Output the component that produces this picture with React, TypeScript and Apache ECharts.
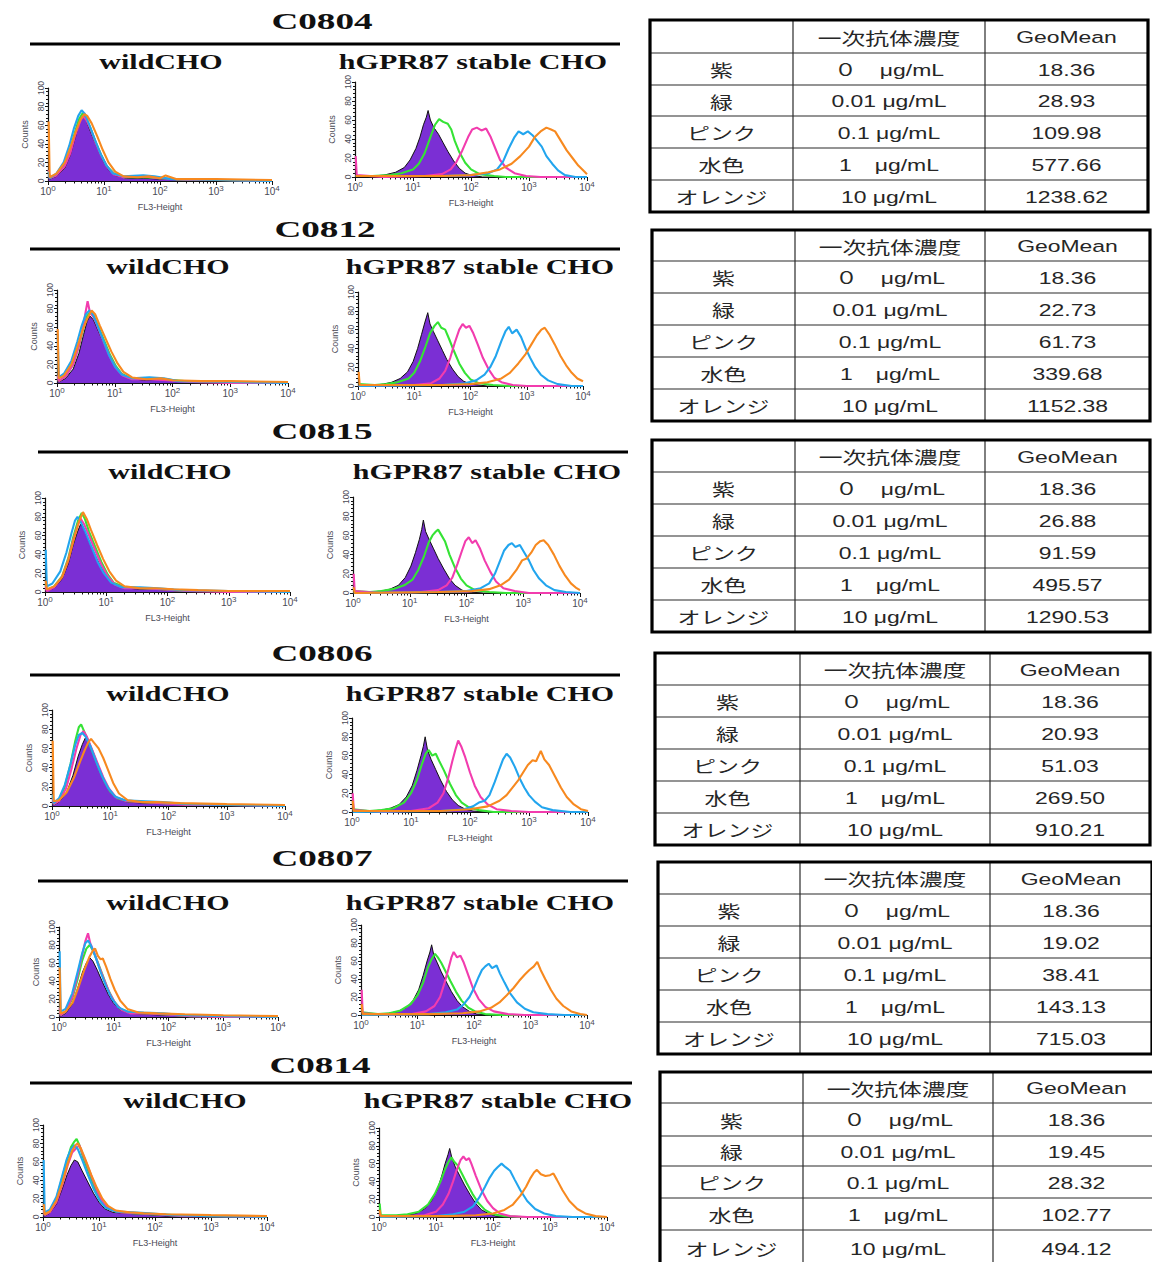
import React, { useEffect, useRef } from "react";
import * as echarts from "echarts";

type Pt = [number, number];
type Curve = Pt[];

// ---------- Sample names and table contents ----------
const SAMPLES = ["C0804", "C0812", "C0815", "C0806", "C0807", "C0814"];
const CELL_LINES = ["wildCHO", "hGPR87 stable CHO"];
const TABLE_HEADER = ["", "一次抗体濃度", "GeoMean"];
const COLOR_NAMES = ["紫", "緑", "ピンク", "水色", "オレンジ"];
const CONCENTRATIONS = ["０　μg/mL", "0.01 μg/mL", "0.1 μg/mL", "1　μg/mL", "10 μg/mL"];

const GEOMEAN_C0804 = ["18.36", "28.93", "109.98", "577.66", "1238.62"];
const GEOMEAN_C0812 = ["18.36", "22.73", "61.73", "339.68", "1152.38"];
const GEOMEAN_C0815 = ["18.36", "26.88", "91.59", "495.57", "1290.53"];
const GEOMEAN_C0806 = ["18.36", "20.93", "51.03", "269.50", "910.21"];
const GEOMEAN_C0807 = ["18.36", "19.02", "38.41", "143.13", "715.03"];
const GEOMEAN_C0814 = ["18.36", "19.45", "28.32", "102.77", "494.12"];

// axis ticks: decades of FL3-Height (log10) and counts
const X_DECADES = [0, 1, 2, 3, 4];
const Y_TICKS = [0, 20, 40, 60, 80, 100];

// ---------- Histogram traces: [log10(FL3-Height), counts], order 紫 緑 ピンク 水色 オレンジ ----------
const WILD_C0804: Curve[] = [
  [[0.012,6],[0.03,2],[0.15,5],[0.3,14],[0.4,28],[0.48,45],[0.55,60],[0.6,68],[0.65,72],[0.7,62],[0.78,50],[0.88,36],[0.98,22],[1.08,12],[1.2,6],[1.4,3],[1.7,3],[2.0,2],[2.4,1],[3,0],[4,0]],
  [[0.012,10],[0.03,3],[0.15,7],[0.3,18],[0.4,34],[0.48,52],[0.55,66],[0.62,73],[0.68,68],[0.75,58],[0.85,42],[0.95,28],[1.05,16],[1.18,8],[1.35,4],[1.7,4],[2.0,3],[2.5,1],[3,1],[4,0]],
  [[0.012,12],[0.03,3],[0.15,6],[0.3,16],[0.4,30],[0.48,48],[0.56,62],[0.62,70],[0.68,66],[0.76,56],[0.86,40],[0.96,26],[1.06,15],[1.18,7],[1.35,4],[1.7,5],[2.0,3],[2.5,1],[3,1],[4,0]],
  [[0.012,10],[0.03,3],[0.15,8],[0.28,20],[0.38,38],[0.46,56],[0.54,70],[0.6,76],[0.66,72],[0.74,60],[0.84,44],[0.94,29],[1.04,17],[1.16,8],[1.35,5],[1.7,6],[1.9,5],[2.2,2],[3,1],[4,0]],
  [[0.012,64],[0.03,4],[0.15,8],[0.3,20],[0.4,36],[0.5,54],[0.58,66],[0.65,72],[0.7,70],[0.78,62],[0.88,48],[0.98,33],[1.08,20],[1.2,10],[1.35,5],[1.6,4],[1.8,5],[2.0,3],[2.1,6],[2.3,2],[3,2],[4,1]],
];
const HGPR_C0804: Curve[] = [
  [[0.012,0],[0.3,1],[0.5,2],[0.7,5],[0.85,10],[0.95,18],[1.05,30],[1.12,42],[1.18,55],[1.23,63],[1.26,70],[1.3,60],[1.36,52],[1.44,45],[1.52,36],[1.6,27],[1.7,17],[1.8,9],[1.9,4],[2.0,2],[2.2,0],[4,0]],
  [[0.012,1],[0.3,1],[0.6,2],[0.8,4],[1.0,8],[1.1,14],[1.2,25],[1.3,42],[1.38,55],[1.45,61],[1.52,58],[1.6,56],[1.66,50],[1.72,38],[1.8,26],[1.9,15],[2.0,8],[2.15,3],[2.4,1],[2.6,0],[4,0]],
  [[0.012,22],[0.03,2],[0.5,0],[1.2,1],[1.5,3],[1.65,8],[1.75,16],[1.85,28],[1.95,42],[2.02,50],[2.1,52],[2.18,49],[2.26,51],[2.34,42],[2.42,30],[2.5,18],[2.6,10],[2.75,4],[2.95,1],[3.2,0],[4,0]],
  [[0.012,1],[1.5,1],[2.0,2],[2.3,4],[2.45,8],[2.55,16],[2.65,30],[2.75,42],[2.82,48],[2.9,45],[2.98,48],[3.06,44],[3.14,38],[3.22,32],[3.3,22],[3.4,14],[3.5,7],[3.62,2],[3.8,0],[4,0]],
  [[0.012,1],[1.5,1],[2.0,2],[2.3,5],[2.5,8],[2.7,14],[2.85,22],[3.0,32],[3.1,42],[3.2,48],[3.3,52],[3.38,50],[3.45,48],[3.55,38],[3.65,28],[3.75,20],[3.85,12],[3.95,6],[4,3]],
];

const WILD_C0812: Curve[] = [
  [[0.012,4],[0.03,1],[0.15,5],[0.28,15],[0.38,32],[0.46,52],[0.52,66],[0.57,72],[0.63,68],[0.7,58],[0.8,44],[0.9,30],[1.0,18],[1.1,10],[1.25,5],[1.5,3],[1.8,4],[2.1,2],[2.6,1],[3,0],[4,0]],
  [[0.012,8],[0.03,2],[0.15,7],[0.28,20],[0.38,40],[0.46,60],[0.52,72],[0.58,76],[0.64,72],[0.72,60],[0.82,45],[0.92,30],[1.02,18],[1.12,10],[1.28,5],[1.6,5],[1.85,4],[2.2,2],[2.7,1],[3,1],[4,0]],
  [[0.012,8],[0.03,2],[0.15,7],[0.28,20],[0.38,40],[0.45,60],[0.5,78],[0.53,88],[0.57,76],[0.64,70],[0.72,58],[0.82,42],[0.92,28],[1.02,16],[1.14,8],[1.3,4],[1.6,4],[1.9,3],[2.3,1],[3,0],[4,0]],
  [[0.012,52],[0.03,6],[0.12,10],[0.25,24],[0.35,44],[0.43,62],[0.5,74],[0.56,78],[0.62,74],[0.7,62],[0.8,46],[0.9,30],[1.0,18],[1.12,9],[1.3,5],[1.6,6],[1.85,5],[2.1,2],[3,1],[4,0]],
  [[0.012,58],[0.03,5],[0.12,8],[0.25,20],[0.35,38],[0.45,58],[0.53,70],[0.6,78],[0.66,74],[0.74,62],[0.84,48],[0.94,34],[1.04,22],[1.15,12],[1.3,6],[1.55,4],[1.8,5],[2.0,3],[2.5,2],[3,2],[4,1]],
];
const HGPR_C0812: Curve[] = [
  [[0.012,0],[0.3,1],[0.45,2],[0.6,4],[0.75,8],[0.88,15],[0.98,26],[1.06,40],[1.13,55],[1.19,68],[1.24,78],[1.28,66],[1.34,58],[1.42,48],[1.5,38],[1.58,28],[1.68,18],[1.78,10],[1.88,5],[2.0,2],[2.3,0],[4,0]],
  [[0.012,2],[0.3,1],[0.5,2],[0.7,4],[0.9,8],[1.0,14],[1.1,26],[1.2,42],[1.28,56],[1.36,64],[1.42,68],[1.48,62],[1.55,60],[1.62,50],[1.7,38],[1.8,24],[1.9,14],[2.0,7],[2.15,3],[2.4,1],[2.7,0],[4,0]],
  [[0.012,0],[1.0,1],[1.3,3],[1.45,8],[1.55,16],[1.64,30],[1.72,46],[1.8,60],[1.86,66],[1.92,62],[1.98,64],[2.05,56],[2.13,44],[2.22,30],[2.32,18],[2.42,9],[2.55,4],[2.75,1],[3.0,0],[4,0]],
  [[0.012,0],[1.5,1],[1.9,3],[2.1,6],[2.25,12],[2.35,20],[2.45,32],[2.55,48],[2.62,58],[2.68,63],[2.74,56],[2.82,60],[2.9,52],[2.98,40],[3.06,30],[3.15,20],[3.25,12],[3.38,6],[3.55,2],[3.8,0],[4,0]],
  [[0.012,15],[0.03,1],[1.5,1],[2.0,2],[2.3,4],[2.55,8],[2.7,14],[2.85,24],[2.98,34],[3.08,44],[3.18,54],[3.26,60],[3.32,62],[3.4,55],[3.5,44],[3.6,32],[3.7,22],[3.8,14],[3.9,8],[4,5]],
];

const WILD_C0815: Curve[] = [
  [[0.012,5],[0.03,1],[0.15,4],[0.28,14],[0.38,30],[0.46,50],[0.53,64],[0.58,72],[0.63,68],[0.7,57],[0.8,42],[0.9,28],[1.0,17],[1.1,9],[1.25,5],[1.5,3],[1.8,3],[2.2,1],[3,0],[4,0]],
  [[0.012,8],[0.03,2],[0.15,6],[0.28,17],[0.38,36],[0.46,58],[0.54,76],[0.6,84],[0.65,78],[0.72,64],[0.82,48],[0.92,32],[1.02,19],[1.12,10],[1.3,5],[1.6,4],[1.9,3],[2.3,1],[3,1],[4,0]],
  [[0.012,6],[0.03,1],[0.15,5],[0.28,16],[0.38,34],[0.46,55],[0.53,70],[0.58,78],[0.64,72],[0.72,60],[0.82,44],[0.92,29],[1.02,17],[1.14,8],[1.3,4],[1.6,4],[1.9,3],[2.3,1],[3,0],[4,0]],
  [[0.012,45],[0.03,6],[0.12,9],[0.25,22],[0.35,42],[0.43,62],[0.49,76],[0.53,80],[0.58,75],[0.66,64],[0.76,48],[0.86,32],[0.96,20],[1.08,10],[1.25,5],[1.55,5],[1.85,4],[2.2,2],[3,1],[4,0]],
  [[0.012,12],[0.03,3],[0.15,6],[0.28,16],[0.38,34],[0.47,56],[0.55,74],[0.62,85],[0.68,78],[0.75,66],[0.85,50],[0.95,35],[1.05,22],[1.16,12],[1.3,6],[1.55,4],[1.8,4],[2.1,3],[2.5,2],[3,1],[4,1]],
];
const HGPR_C0815: Curve[] = [
  [[0.012,0],[0.3,1],[0.5,2],[0.65,4],[0.8,8],[0.92,16],[1.02,28],[1.1,42],[1.17,56],[1.21,66],[1.24,76],[1.28,64],[1.34,56],[1.42,46],[1.5,36],[1.6,25],[1.7,15],[1.8,8],[1.92,3],[2.05,1],[2.3,0],[4,0]],
  [[0.012,2],[0.3,1],[0.5,2],[0.7,4],[0.9,8],[1.05,14],[1.15,24],[1.25,38],[1.33,52],[1.4,60],[1.46,64],[1.5,66],[1.56,60],[1.62,54],[1.7,40],[1.8,26],[1.9,15],[2.0,8],[2.15,3],[2.4,1],[2.7,0],[4,0]],
  [[0.012,20],[0.03,2],[0.5,0],[1.2,1],[1.5,3],[1.65,8],[1.75,16],[1.84,30],[1.92,44],[1.98,54],[2.04,58],[2.1,52],[2.16,55],[2.24,46],[2.32,34],[2.42,22],[2.52,12],[2.65,5],[2.85,2],[3.1,0],[4,0]],
  [[0.012,0],[1.5,1],[2.0,2],[2.25,5],[2.4,10],[2.5,20],[2.58,32],[2.66,44],[2.74,50],[2.8,52],[2.86,48],[2.94,50],[3.02,42],[3.1,34],[3.18,24],[3.28,15],[3.4,8],[3.55,3],[3.75,1],[4,0]],
  [[0.012,6],[0.03,0],[1.5,1],[2.1,2],[2.4,4],[2.6,8],[2.75,14],[2.88,24],[2.98,34],[3.06,36],[3.14,42],[3.22,50],[3.3,54],[3.36,55],[3.44,50],[3.54,40],[3.64,28],[3.74,18],[3.84,10],[3.94,5],[4,3]],
];

const WILD_C0806: Curve[] = [
  [[0.012,5],[0.03,1],[0.12,4],[0.25,14],[0.36,32],[0.45,52],[0.52,64],[0.58,72],[0.63,66],[0.7,55],[0.8,40],[0.9,26],[1.0,15],[1.12,8],[1.3,4],[1.6,3],[1.9,3],[2.3,1],[3,1],[4,0]],
  [[0.012,10],[0.03,2],[0.12,6],[0.22,20],[0.32,44],[0.4,68],[0.46,82],[0.5,85],[0.55,78],[0.62,68],[0.7,56],[0.8,40],[0.9,26],[1.0,15],[1.12,8],[1.3,5],[1.6,4],[1.9,3],[2.3,2],[3,1],[4,1]],
  [[0.012,8],[0.03,2],[0.12,5],[0.24,18],[0.34,40],[0.42,60],[0.49,74],[0.54,78],[0.6,72],[0.68,60],[0.78,45],[0.88,30],[0.98,18],[1.1,9],[1.28,5],[1.6,4],[1.9,3],[2.3,1],[3,1],[4,0]],
  [[0.012,12],[0.03,3],[0.12,8],[0.22,22],[0.32,44],[0.4,64],[0.46,74],[0.52,76],[0.58,72],[0.66,62],[0.76,46],[0.86,31],[0.96,19],[1.08,10],[1.25,6],[1.6,5],[1.9,4],[2.3,2],[3,1],[4,0]],
  [[0.012,68],[0.03,5],[0.12,6],[0.25,14],[0.38,30],[0.48,46],[0.56,58],[0.62,66],[0.67,70],[0.72,66],[0.8,60],[0.88,50],[0.96,38],[1.05,24],[1.15,13],[1.3,6],[1.55,4],[1.8,4],[2.2,3],[3,2],[4,1]],
];
const HGPR_C0806: Curve[] = [
  [[0.012,0],[0.3,1],[0.5,2],[0.65,4],[0.8,8],[0.92,16],[1.02,28],[1.1,44],[1.17,60],[1.21,70],[1.24,80],[1.28,66],[1.34,56],[1.42,45],[1.5,34],[1.6,22],[1.7,13],[1.8,7],[1.92,3],[2.05,1],[2.3,0],[4,0]],
  [[0.012,3],[0.3,1],[0.5,2],[0.7,4],[0.88,10],[1.0,20],[1.1,34],[1.18,50],[1.25,62],[1.3,66],[1.36,60],[1.42,62],[1.48,54],[1.56,44],[1.66,30],[1.76,18],[1.86,10],[1.98,5],[2.15,2],[2.4,0],[4,0]],
  [[0.012,20],[0.03,2],[0.5,0],[1.0,1],[1.3,4],[1.45,10],[1.55,20],[1.63,36],[1.7,54],[1.76,68],[1.8,76],[1.85,70],[1.92,58],[2.0,42],[2.08,28],[2.18,16],[2.3,8],[2.45,3],[2.7,1],[3.0,0],[4,0]],
  [[0.012,0],[1.5,1],[1.9,3],[2.05,6],[2.15,10],[2.25,12],[2.33,18],[2.42,32],[2.5,46],[2.56,56],[2.62,62],[2.68,58],[2.76,48],[2.84,36],[2.92,26],[3.0,18],[3.1,11],[3.22,5],[3.4,2],[3.7,0],[4,0]],
  [[0.012,12],[0.03,1],[1.5,1],[2.0,3],[2.3,6],[2.5,12],[2.62,18],[2.72,26],[2.82,34],[2.9,42],[2.98,50],[3.06,55],[3.12,54],[3.2,65],[3.26,56],[3.34,50],[3.44,38],[3.54,26],[3.64,16],[3.76,8],[3.88,3],[4,1]],
];

const WILD_C0807: Curve[] = [
  [[0.012,5],[0.03,1],[0.12,4],[0.24,14],[0.34,32],[0.43,50],[0.5,60],[0.56,66],[0.62,62],[0.7,52],[0.8,38],[0.9,25],[1.0,15],[1.12,8],[1.3,4],[1.6,3],[1.9,2],[2.4,1],[3,0],[4,0]],
  [[0.012,8],[0.03,2],[0.12,6],[0.24,20],[0.34,42],[0.42,62],[0.5,76],[0.56,80],[0.62,74],[0.7,62],[0.8,46],[0.9,30],[1.0,18],[1.12,9],[1.3,5],[1.6,4],[1.9,3],[2.4,1],[3,1],[4,0]],
  [[0.012,10],[0.03,2],[0.12,6],[0.24,22],[0.34,46],[0.42,68],[0.48,84],[0.53,93],[0.57,82],[0.64,72],[0.72,58],[0.82,42],[0.92,27],[1.02,16],[1.14,8],[1.3,4],[1.6,4],[1.9,3],[2.4,1],[3,0],[4,0]],
  [[0.012,73],[0.03,6],[0.12,9],[0.24,26],[0.34,50],[0.42,70],[0.48,82],[0.53,85],[0.58,80],[0.66,68],[0.76,50],[0.86,34],[0.96,21],[1.08,11],[1.25,6],[1.55,5],[1.9,4],[2.3,2],[3,1],[4,0]],
  [[0.012,55],[0.03,4],[0.12,6],[0.25,16],[0.36,34],[0.46,52],[0.55,66],[0.62,74],[0.66,76],[0.71,68],[0.76,64],[0.8,65],[0.86,56],[0.94,42],[1.02,30],[1.12,18],[1.25,9],[1.45,5],[1.8,4],[2.3,3],[3,2],[4,1]],
];
const HGPR_C0807: Curve[] = [
  [[0.012,0],[0.3,1],[0.5,2],[0.65,4],[0.8,8],[0.92,16],[1.02,28],[1.1,44],[1.17,60],[1.22,70],[1.25,78],[1.29,66],[1.35,58],[1.42,48],[1.5,38],[1.6,26],[1.7,16],[1.8,9],[1.92,4],[2.05,1],[2.3,0],[4,0]],
  [[0.012,3],[0.3,1],[0.5,2],[0.7,5],[0.88,12],[1.0,22],[1.1,36],[1.18,52],[1.25,62],[1.31,68],[1.36,64],[1.42,58],[1.5,48],[1.58,38],[1.68,26],[1.78,16],[1.9,8],[2.02,4],[2.2,1],[2.5,0],[4,0]],
  [[0.012,28],[0.03,2],[0.5,0],[0.9,1],[1.15,4],[1.3,10],[1.4,20],[1.48,36],[1.55,52],[1.6,64],[1.64,70],[1.7,64],[1.76,66],[1.82,58],[1.9,44],[1.98,30],[2.08,18],[2.2,9],[2.35,4],[2.6,1],[2.9,0],[4,0]],
  [[0.012,0],[1.2,1],[1.5,3],[1.7,6],[1.82,12],[1.92,20],[2.0,30],[2.08,42],[2.14,50],[2.2,54],[2.26,57],[2.32,52],[2.4,55],[2.46,46],[2.54,36],[2.64,24],[2.76,14],[2.9,7],[3.05,3],[3.3,1],[3.6,0],[4,0]],
  [[0.012,12],[0.03,1],[1.2,1],[1.8,2],[2.1,4],[2.3,8],[2.45,14],[2.58,22],[2.7,30],[2.8,38],[2.9,45],[2.98,50],[3.06,54],[3.12,59],[3.18,50],[3.26,40],[3.36,28],[3.46,18],[3.58,10],[3.72,4],[3.88,1],[4,0]],
];

const WILD_C0814: Curve[] = [
  [[0.012,6],[0.03,1],[0.12,4],[0.24,14],[0.34,30],[0.43,46],[0.5,56],[0.56,62],[0.62,60],[0.7,50],[0.8,38],[0.9,26],[1.0,16],[1.1,9],[1.25,5],[1.5,4],[1.8,3],[2.2,1],[3,0],[4,0]],
  [[0.012,10],[0.03,2],[0.12,6],[0.24,20],[0.34,42],[0.43,62],[0.5,76],[0.56,82],[0.6,85],[0.65,78],[0.72,64],[0.82,48],[0.92,32],[1.02,19],[1.12,10],[1.3,6],[1.6,4],[1.9,3],[2.4,2],[3,1],[4,1]],
  [[0.012,8],[0.03,2],[0.12,5],[0.24,16],[0.35,36],[0.44,56],[0.52,70],[0.58,74],[0.65,78],[0.7,70],[0.78,58],[0.88,42],[0.98,27],[1.08,15],[1.2,8],[1.4,5],[1.7,4],[2.0,3],[2.5,1],[3,1],[4,0]],
  [[0.012,62],[0.03,5],[0.12,8],[0.24,22],[0.34,44],[0.42,62],[0.5,74],[0.56,78],[0.62,74],[0.7,62],[0.8,46],[0.9,31],[1.0,19],[1.12,10],[1.3,6],[1.6,5],[1.9,4],[2.3,2],[3,1],[4,0]],
  [[0.012,14],[0.03,3],[0.12,6],[0.24,18],[0.35,38],[0.44,58],[0.52,72],[0.58,78],[0.62,80],[0.68,74],[0.76,62],[0.86,46],[0.96,32],[1.06,20],[1.16,12],[1.3,7],[1.55,5],[1.8,4],[2.2,3],[3,2],[4,1]],
];
const HGPR_C0814: Curve[] = [
  [[0.012,0],[0.3,1],[0.5,2],[0.65,4],[0.8,9],[0.92,18],[1.02,30],[1.1,46],[1.16,60],[1.21,70],[1.24,77],[1.28,66],[1.34,56],[1.42,46],[1.5,36],[1.6,25],[1.7,15],[1.8,8],[1.92,4],[2.05,1],[2.3,0],[4,0]],
  [[0.012,15],[0.03,2],[0.3,2],[0.5,3],[0.7,6],[0.86,14],[0.98,26],[1.08,40],[1.16,54],[1.22,62],[1.27,67],[1.32,62],[1.38,58],[1.46,48],[1.54,38],[1.64,26],[1.74,16],[1.86,8],[2.0,3],[2.2,1],[2.5,0],[4,0]],
  [[0.012,4],[0.03,1],[0.5,1],[0.8,2],[1.0,6],[1.12,14],[1.22,26],[1.3,40],[1.37,54],[1.43,64],[1.48,68],[1.53,64],[1.58,66],[1.62,60],[1.7,46],[1.8,30],[1.9,18],[2.0,10],[2.12,4],[2.3,1],[2.6,0],[4,0]],
  [[0.012,0],[1.0,1],[1.3,3],[1.5,6],[1.65,12],[1.76,22],[1.86,34],[1.94,44],[2.02,52],[2.08,56],[2.15,60],[2.22,56],[2.3,52],[2.38,42],[2.48,30],[2.6,18],[2.74,9],[2.9,4],[3.1,1],[3.4,0],[4,0]],
  [[0.012,8],[0.03,1],[1.2,1],[1.7,2],[2.0,4],[2.2,8],[2.35,14],[2.48,24],[2.58,34],[2.66,44],[2.72,50],[2.77,53],[2.84,48],[2.92,46],[3.0,47],[3.06,49],[3.12,42],[3.22,30],[3.34,18],[3.48,9],[3.62,4],[3.8,1],[4,0]],
];

const PANELS: Curve[][] = [
  WILD_C0804, HGPR_C0804,
  WILD_C0812, HGPR_C0812,
  WILD_C0815, HGPR_C0815,
  WILD_C0806, HGPR_C0806,
  WILD_C0807, HGPR_C0807,
  WILD_C0814, HGPR_C0814,
];
const GEOMEANS = [GEOMEAN_C0804, GEOMEAN_C0812, GEOMEAN_C0815, GEOMEAN_C0806, GEOMEAN_C0807, GEOMEAN_C0814];

// ---------- Styling & layout ----------
const PURPLE = "#7b2fd4";
const LINE_COLORS = ["#111111", "#35e335", "#f23cae", "#22a5ee", "#f7891f"];
const SERIF = '"Liberation Serif", "Times New Roman", serif';
const SANS = '"Liberation Sans", Arial, sans-serif';
const CJK = '"Noto Sans CJK JP", sans-serif';
const TABLE_TEXT = "#262626";
const AXIS_TEXT = "#4a4a55";

type Section = {
  title: [number, number];
  rule: [number, number, number];
  labels: [[number, number], [number, number]];
  grids: [[number, number, number, number], [number, number, number, number]]; // x0, x4, yTop, yBottom
  cols: number[];
  rows: number[];
};

const SECTIONS: Section[] = [
  { title: [322, 21], rule: [30, 620, 44], labels: [[161, 62], [473, 62]],
    grids: [[48, 272, 88, 181], [355, 587, 82, 177]],
    cols: [650, 793, 985, 1148], rows: [20, 53, 85, 116, 148, 180, 212] },
  { title: [325, 229], rule: [30, 620, 249], labels: [[168, 267], [480, 267]],
    grids: [[57, 288, 290, 383], [358, 583, 292, 386]],
    cols: [652, 795, 985, 1150], rows: [230, 261, 293, 325, 357, 389, 421] },
  { title: [322, 431], rule: [38, 628, 452], labels: [[170, 472], [487, 472]],
    grids: [[45, 290, 498, 592], [353, 580, 497, 593]],
    cols: [652, 795, 985, 1150], rows: [440, 472, 504, 536, 568, 600, 632] },
  { title: [322, 653], rule: [30, 620, 675], labels: [[168, 694], [480, 694]],
    grids: [[52, 285, 710, 806], [352, 588, 718, 812]],
    cols: [655, 800, 990, 1150], rows: [653, 685, 717, 749, 781, 813, 845] },
  { title: [322, 858], rule: [38, 628, 881], labels: [[168, 903], [480, 903]],
    grids: [[59, 278, 927, 1017], [361, 587, 925, 1015]],
    cols: [658, 800, 990, 1152], rows: [862, 894, 926, 958, 990, 1022, 1054] },
  { title: [320, 1065], rule: [30, 632, 1083], labels: [[185, 1101], [498, 1101]],
    grids: [[43, 267, 1125, 1217], [379, 607, 1128, 1217]],
    cols: [660, 803, 993, 1160], rows: [1072, 1103, 1136, 1166, 1198, 1230, 1266] },
];

// minor tick positions inside each decade of the log axis
const MINOR_TICKS: number[] = [];
X_DECADES.slice(0, -1).forEach((d) => {
  for (let k = 2; k <= 9; k++) MINOR_TICKS.push(d + Math.log10(k));
});

function textEl(x: number, y: number, text: string, font: string, scaleX: number, fill = "#111") {
  return {
    type: "text",
    x,
    y,
    scaleX,
    silent: true,
    style: {
      text,
      font,
      fill,
      textAlign: "center",
      align: "center",
      textVerticalAlign: "middle",
      verticalAlign: "middle",
    },
  };
}

function buildTable(cols: number[], rows: number[], geo: string[]) {
  const els: any[] = [];
  const top = rows[0];
  const bottom = rows[rows.length - 1];
  for (let i = 1; i < rows.length - 1; i++) {
    els.push({ type: "line", silent: true, shape: { x1: cols[0], y1: rows[i], x2: cols[3], y2: rows[i] }, style: { stroke: "#2a2a2a", lineWidth: 1.2 } });
  }
  [cols[1], cols[2]].forEach((x) => {
    els.push({ type: "line", silent: true, shape: { x1: x, y1: top, x2: x, y2: bottom }, style: { stroke: "#2a2a2a", lineWidth: 1.2 } });
  });
  els.push({ type: "rect", silent: true, shape: { x: cols[0], y: top, width: cols[3] - cols[0], height: bottom - top }, style: { fill: "none", stroke: "#000", lineWidth: 3.2 } });

  const cx = [0, 1, 2].map((c) => (cols[c] + cols[c + 1]) / 2);
  const rowMid = (r: number) => (rows[r] + rows[r + 1]) / 2 + 1;
  els.push(textEl(cx[1], rowMid(0), TABLE_HEADER[1], `17px ${CJK}`, 1.4, TABLE_TEXT));
  els.push(textEl(cx[2], rowMid(0), TABLE_HEADER[2], `17px ${SANS}`, 1.35, TABLE_TEXT));
  COLOR_NAMES.forEach((name, i) => {
    els.push(textEl(cx[0], rowMid(i + 1), name, `17px ${CJK}`, 1.35, TABLE_TEXT));
    els.push(textEl(cx[1], rowMid(i + 1), CONCENTRATIONS[i], `17px ${SANS}, ${CJK}`, 1.35, TABLE_TEXT));
    els.push(textEl(cx[2], rowMid(i + 1), geo[i], `17px ${SANS}`, 1.35, TABLE_TEXT));
  });
  return els;
}

function buildOption() {
  const grid: any[] = [];
  const xAxis: any[] = [];
  const yAxis: any[] = [];
  const series: any[] = [];
  const graphic: any[] = [];

  SECTIONS.forEach((sec, s) => {
    graphic.push(textEl(sec.title[0], sec.title[1], SAMPLES[s], `bold 24px ${SERIF}`, 1.55));
    graphic.push({ type: "line", silent: true, shape: { x1: sec.rule[0], y1: sec.rule[2], x2: sec.rule[1], y2: sec.rule[2] }, style: { stroke: "#000", lineWidth: 3 } });
    sec.labels.forEach((pos, k) => {
      graphic.push(textEl(pos[0], pos[1], CELL_LINES[k], `bold 20px ${SERIF}`, 1.5));
    });
    graphic.push(...buildTable(sec.cols, sec.rows, GEOMEANS[s]));

    sec.grids.forEach((g, k) => {
      const p = s * 2 + k;
      const [x0, x4, yTop, yBottom] = g;
      grid.push({ left: x0, top: yTop, width: x4 - x0, height: yBottom - yTop, containLabel: false });

      xAxis.push({
        type: "value",
        gridIndex: p,
        min: X_DECADES[0],
        max: X_DECADES[X_DECADES.length - 1],
        interval: 1,
        name: "FL3-Height",
        nameLocation: "middle",
        nameGap: 21,
        nameTextStyle: { fontSize: 9, color: AXIS_TEXT, fontFamily: SANS },
        axisLine: { show: true, onZero: false, lineStyle: { color: "#111", width: 1.2 } },
        axisTick: { show: true, length: 4, lineStyle: { color: "#111" } },
        axisLabel: {
          fontSize: 10,
          color: AXIS_TEXT,
          margin: 3,
          fontFamily: SANS,
          formatter: (v: number) => "10{s|" + v + "}",
          rich: { s: { fontSize: 8, color: AXIS_TEXT, fontFamily: SANS, padding: [0, 0, 7, 0] } },
        },
        splitLine: { show: false },
      });
      xAxis.push({
        type: "value",
        gridIndex: p,
        min: X_DECADES[0],
        max: X_DECADES[X_DECADES.length - 1],
        position: "bottom",
        axisLine: { show: false },
        axisLabel: { show: false },
        axisTick: { show: true, length: 2.5, customValues: MINOR_TICKS, lineStyle: { color: "#111" } },
        splitLine: { show: false },
      });
      yAxis.push({
        type: "value",
        gridIndex: p,
        min: Y_TICKS[0],
        max: Y_TICKS[Y_TICKS.length - 1],
        interval: 20,
        name: "Counts",
        nameLocation: "middle",
        nameGap: 19,
        nameRotate: 90,
        nameTextStyle: { fontSize: 9, color: AXIS_TEXT, fontFamily: SANS },
        axisLine: { show: true, lineStyle: { color: "#111", width: 1.2 } },
        axisTick: { show: true, length: 3, lineStyle: { color: "#111" } },
        minorTick: { show: true, splitNumber: 5, length: 2, lineStyle: { color: "#111" } },
        axisLabel: { rotate: 90, fontSize: 8.5, color: AXIS_TEXT, margin: 3, fontFamily: SANS },
        splitLine: { show: false },
        minorSplitLine: { show: false },
      });

      PANELS[p].forEach((curve, c) => {
        const base: any = {
          type: "line",
          xAxisIndex: p * 2,
          yAxisIndex: p,
          data: curve,
          symbol: "none",
          silent: true,
          smooth: false,
          z: 2 + c,
        };
        if (c === 0) {
          base.lineStyle = { color: LINE_COLORS[0], width: 1 };
          base.areaStyle = { color: PURPLE, opacity: 1 };
        } else {
          base.lineStyle = { color: LINE_COLORS[c], width: 2.1 };
        }
        series.push(base);
      });
    });
  });

  return { animation: false, backgroundColor: "#ffffff", grid, xAxis, yAxis, series, graphic };
}

export default function App() {
  const ref = useRef<HTMLDivElement>(null);
  useEffect(() => {
    if (!ref.current) return;
    const chart = echarts.init(ref.current, null, { renderer: "svg" });
    chart.setOption(buildOption() as any);
    return () => chart.dispose();
  }, []);
  return (
    <div
      ref={ref}
      style={{ position: "absolute", left: 0, top: 0, width: 1152, height: 1262, background: "#fff" }}
    />
  );
}
